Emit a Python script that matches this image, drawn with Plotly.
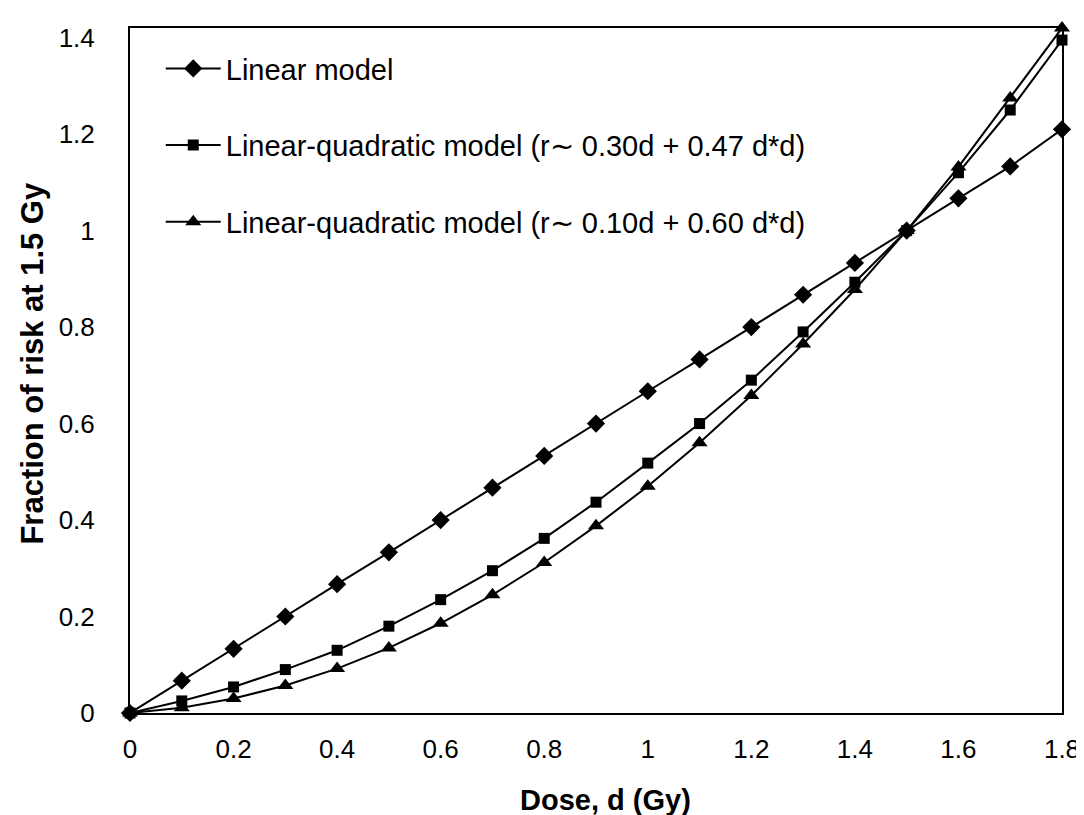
import plotly.graph_objects as go

dose = [0, 0.1, 0.2, 0.3, 0.4, 0.5, 0.6, 0.7, 0.8, 0.9, 1.0, 1.1, 1.2, 1.3, 1.4, 1.5, 1.6, 1.7, 1.8]
linear_model = [0, 0.067, 0.133, 0.2, 0.267, 0.333, 0.4, 0.467, 0.533, 0.6, 0.667, 0.733, 0.8, 0.867, 0.933, 1.0, 1.067, 1.133, 1.21]
lq_030_047 = [0, 0.025, 0.054, 0.09, 0.13, 0.18, 0.235, 0.295, 0.362, 0.437, 0.518, 0.6, 0.69, 0.79, 0.893, 1.0, 1.12, 1.25, 1.395]
lq_010_060 = [0, 0.011, 0.03, 0.057, 0.092, 0.135, 0.186, 0.245, 0.312, 0.388, 0.47, 0.56, 0.658, 0.765, 0.878, 1.0, 1.132, 1.275, 1.42]

names = [
    "Linear model",
    "Linear-quadratic model (r\u223c 0.30d + 0.47 d*d)",
    "Linear-quadratic model (r\u223c 0.10d + 0.60 d*d)",
]
x_ticks = [0, 0.2, 0.4, 0.6, 0.8, 1.0, 1.2, 1.4, 1.6, 1.8]
x_labels = ["0", "0.2", "0.4", "0.6", "0.8", "1", "1.2", "1.4", "1.6", "1.8"]
y_ticks = [0, 0.2, 0.4, 0.6, 0.8, 1.0, 1.2, 1.4]
y_labels = ["0", "0.2", "0.4", "0.6", "0.8", "1", "1.2", "1.4"]

FONT = "Liberation Sans, Arial, Helvetica, sans-serif"

fig = go.Figure()
series = [
    (linear_model, "diamond", 14),
    (lq_030_047, "square", 11),
    (lq_010_060, "triangle-up", 14),
]
for i, (vals, sym, sz) in enumerate(series):
    fig.add_trace(go.Scatter(
        x=dose, y=vals, name=names[i], mode="lines+markers",
        legendgroup=f"g{i}",
        line=dict(color="black", width=2),
        marker=dict(symbol=sym, size=sz, color="black", line=dict(width=0)),
        cliponaxis=False,
    ))

fig.update_layout(
    width=1084, height=815,
    margin=dict(l=122, r=26, t=20, b=110),
    paper_bgcolor="white", plot_bgcolor="white",
    font=dict(family=FONT, size=26, color="black"),
    showlegend=True,
    legend=dict(
        x=0.033, y=0.978, xanchor="left", yanchor="top",
        bgcolor="white", borderwidth=0,
        font=dict(family=FONT, size=29, color="black"),
        tracegroupgap=36, itemwidth=55,
    ),
    xaxis=dict(
        range=[0, 1.8], tickvals=x_ticks, ticktext=x_labels,
        showline=True, linecolor="black", linewidth=2, mirror=True,
        showgrid=False, zeroline=False, ticks="", ticklabelstandoff=12,
        tickfont=dict(family=FONT, size=26),
    ),
    yaxis=dict(
        range=[0, 1.42], tickvals=y_ticks, ticktext=y_labels,
        showline=True, linecolor="black", linewidth=2, mirror=True,
        showgrid=False, zeroline=False, ticks="", ticklabelstandoff=28,
        tickfont=dict(family=FONT, size=26),
    ),
    annotations=[
        dict(text="<b>Dose, d (Gy)</b>", xref="paper", yref="paper",
             x=0.51, y=-0.127, xanchor="center", yanchor="middle",
             showarrow=False, font=dict(family=FONT, size=29)),
        dict(text="<b>Fraction of risk at 1.5 Gy</b>", xref="paper", yref="paper",
             x=-0.1045, y=0.511, xanchor="center", yanchor="middle", textangle=-90,
             showarrow=False, font=dict(family=FONT, size=31)),
    ],
)

fig.write_html("out.html")
